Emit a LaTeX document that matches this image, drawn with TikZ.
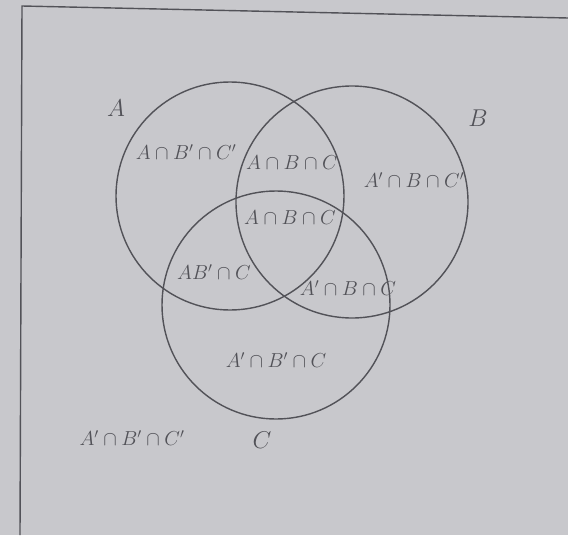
\documentclass[tikz,border=0pt]{standalone}
\usepackage{amsmath,amssymb}
\definecolor{Paper}{RGB}{200,200,204}
\definecolor{Pencil}{RGB}{82,82,88}

\begin{document}
\begin{tikzpicture}[x=0.03cm,y=-0.03cm,
    setline/.style={Pencil,line width=1.2pt},
    region/.style={Pencil,font=\LARGE,inner sep=1pt},
    setname/.style={Pencil,font=\huge}]
    \fill[Paper] (0,0) rectangle (568,535);
    \useasboundingbox (0,0) rectangle (568,535);
    % universe frame
    \draw[setline] (568,18)--(22,6)--(20,535);
    % the three sets
    \draw[setline] (230,196) circle (114);
    \draw[setline] (352,202) circle (116);
    \draw[setline] (276,305) circle (114);
    \node[setname] (nA) at (116,108) {$A$};
    \node[setname] (nB) at (478,118) {$B$};
    \node[setname] (nC) at (262,440) {$C$};
    % regions
    \node[region] (abncn) at (186,152) {$A\cap B'\cap C'$};
    \node[region] (abnc) at (292,163) {$A\cap B\cap C$};
    \node[region] (anbcn) at (414,180) {$A'\cap B\cap C'$};
    \node[region] (abc) at (290,218) {$A\cap B\cap C$};
    \node[region] (abnc2) at (214,272) {$AB'\cap C$};
    \node[region] (anbc) at (348,288) {$A'\cap B\cap C$};
    \node[region] (anbnc) at (276,360) {$A'\cap B'\cap C$};
    \node[region] (none) at (132,438) {$A'\cap B'\cap C'$};
\end{tikzpicture}
\end{document}
